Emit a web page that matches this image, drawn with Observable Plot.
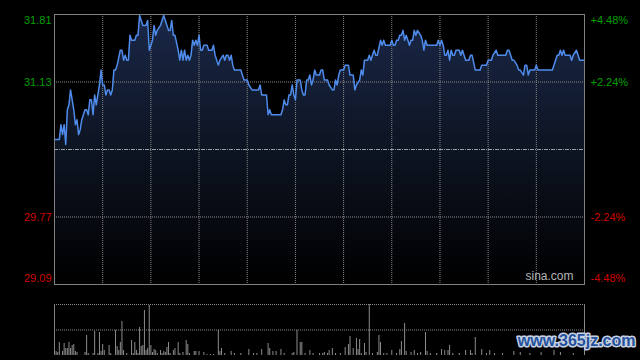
<!DOCTYPE html>
<html><head><meta charset="utf-8">
<script src="https://cdn.jsdelivr.net/npm/d3@7"></script>
<script src="https://cdn.jsdelivr.net/npm/@observablehq/plot@0.6"></script>
<style>
html,body{margin:0;padding:0;background:#000;overflow:hidden;}
#chart svg{display:block}
</style></head><body><div id="chart"></div>
<script>
// Intraday price (minute index from open, HK session 330 minutes)
const minutes = [0,3,4,5,6,7,8,9,10,12,13,14,15,16,17,19,20,21,22,23,24,25,26,27,28,29,30,31,32,33,34,35,36,37,38,39,41,42,43,44,45,46,47,48,50,51,52,53,54,55,56,57,58,59,60,61,62,63,64,66,
67,68,69,71,72,73,74,75,77,78,79,80,81,82,83,84,85,86,87,88,89,90,91,92,93,95,96,98,99,100,102,103,105,106,107,108,109,110,111,112,116,117,118,120,121,123,127,128,129,131,132,
133,134,135,141,142,143,144,145,146,147,148,149,150,151,153,154,155,156,157,158,159,160,161,162,163,165,166,167,168,170,171,173,174,175,176,177,178,180,181,183,184,186,187,188,190,191,192,193,194,195,196,197,198,
199,200,201,203,204,205,206,209,210,211,212,213,214,215,216,217,218,219,220,221,222,223,224,225,226,228,229,230,231,232,238,239,240,241,242,243,244,245,246,247,248,249,250,252,253,254,256,258,259,260,262,
265,266,269,270,272,273,275,276,281,282,283,285,286,288,289,290,292,293,294,295,296,299,300,301,310,312,313,314,315,316,317,318,321,322,323,325,327,330];
const prices = [30.55,30.55,30.70,30.60,30.70,30.50,30.85,30.90,31.05,30.85,30.70,30.75,30.60,30.65,30.75,30.85,30.85,30.80,30.95,30.95,30.80,31.00,30.90,31.00,31.10,31.25,31.10,31.10,31.00,31.05,31.05,31.00,31.05,31.25,31.25,31.30,31.45,31.45,31.35,31.40,31.35,31.35,31.60,31.55,31.55,31.60,31.60,31.80,31.75,31.70,31.70,31.70,31.75,31.45,31.50,31.55,31.70,31.60,31.65,31.70,
31.75,31.80,31.75,31.65,31.65,31.75,31.60,31.60,31.45,31.35,31.45,31.35,31.45,31.35,31.40,31.35,31.40,31.55,31.50,31.55,31.50,31.60,31.45,31.45,31.50,31.50,31.45,31.45,31.50,31.40,31.30,31.35,31.40,31.35,31.40,31.40,31.35,31.40,31.30,31.25,31.25,31.20,31.15,31.15,31.10,31.05,31.05,31.10,31.00,31.00,31.00,
30.80,30.85,30.80,30.80,30.85,30.95,30.90,30.90,31.00,31.00,31.10,31.00,30.95,31.15,31.15,31.05,31.00,31.00,31.15,31.15,31.20,31.10,31.15,31.25,31.20,31.20,31.25,31.25,31.15,31.15,31.10,31.05,31.05,31.15,31.10,31.20,31.25,31.25,31.30,31.30,31.20,31.20,31.05,31.10,31.15,31.25,31.20,31.35,31.35,31.35,31.40,31.35,31.40,
31.45,31.40,31.40,31.55,31.50,31.55,31.50,31.50,31.55,31.50,31.50,31.55,31.55,31.60,31.60,31.65,31.55,31.60,31.55,31.50,31.55,31.55,31.65,31.60,31.65,31.60,31.55,31.45,31.55,31.50,31.50,31.55,31.50,31.55,31.50,31.40,31.40,31.45,31.35,31.45,31.40,31.40,31.45,31.45,31.40,31.45,31.35,31.35,31.40,31.40,31.25,
31.25,31.30,31.30,31.35,31.35,31.40,31.45,31.40,31.40,31.45,31.45,31.35,31.35,31.30,31.25,31.25,31.20,31.30,31.30,31.20,31.25,31.25,31.30,31.25,31.25,31.35,31.40,31.40,31.45,31.40,31.45,31.40,31.40,31.35,31.40,31.45,31.35,31.35];

// Volume per minute (arbitrary units)
const volMinutes = [1,2,3,5,6,7,8,9,10,11,12,13,14,19,20,21,24,25,27,28,29,30,31,34,35,38,39,40,41,42,43,45,48,49,50,51,52,53,54,55,56,57,58,59,60,61,62,63,64,66,67,68,69,70,71,72,74,75,77,78,80,82,83,84,87,88,90,93,95,97,99,
102,103,104,106,110,112,116,121,124,126,129,133,134,136,138,141,143,148,149,151,153,154,156,159,161,165,167,168,170,171,173,175,178,181,183,184,186,188,189,190,191,193,194,196,198,201,202,203,205,207,210,213,215,216,218,219,222,224,226,228,231,232,234,238,241,243,245,246,248,252,256,259,260,262,266,269,271,274,279,286,290,296,303,311,315,323,330];
const volValues = [4,3,13,4,12,7,7,13,7,10,11,4,3,3,20,2,2,24,2,23,4,11,5,10,2,25,9,5,13,34,5,2,15,2,13,5,2,28,9,10,45,5,7,50,10,3,6,5,2,5,2,4,3,8,13,2,5,7,13,2,3,15,11,2,4,4,4,3,1,1,1,
25,4,7,2,4,2,2,6,2,2,6,12,7,4,4,6,2,2,3,25,13,13,2,5,2,2,2,3,2,5,7,2,2,8,11,19,7,17,6,16,2,12,3,51,2,3,20,13,2,2,5,2,6,14,32,4,3,5,2,3,23,4,2,2,6,5,5,10,2,2,5,5,2,18,6,2,5,2,2,4,3,2,3,5,3,2,33];

const prevClose = 30.45;
const priceTicks = [31.81, 31.13, 29.77, 29.09];
const priceTickLabels = ["31.81", "31.13", "29.77", "29.09"];
const pctTickLabels = ["+4.48%", "+2.24%", "-2.24%", "-4.48%"];
const gridMinutes = [30, 60, 90, 120, 150, 180, 210, 240, 270, 300];
const sessionLength = 330;
const volMax = 51;

const series = minutes.map((m, i) => ({m, p: prices[i], base: priceTicks[3]}));
const vols = volMinutes.map((m, i) => ({m, v: volValues[i]}));

const font = '"Liberation Sans", Arial, sans-serif';
const green = "#00a000", red = "#d00000";

const labelRows = priceTicks.map((y, i) => ({
  y, left: priceTickLabels[i], right: pctTickLabels[i],
  color: i < 2 ? green : red,
  dy: i === 0 ? 6 : i === 3 ? -6 : 0
}));

const priceChart = Plot.plot({
  width: 640, height: 290,
  marginLeft: 54, marginRight: 56, marginTop: 14, marginBottom: 6,
  style: {background: "#000", fontFamily: font},
  x: {domain: [0, sessionLength], axis: null},
  y: {domain: [priceTicks[3], priceTicks[0]], axis: null},
  marks: [
    Plot.areaY(series, {x: "m", y1: "base", y2: "p", fill: "url(#areaGrad)", curve: "linear"}),
    Plot.ruleX(gridMinutes, {stroke: "#8a8a8a", strokeDasharray: "1,1"}),
    Plot.ruleY([priceTicks[1], priceTicks[2]], {stroke: "#8a8a8a", strokeDasharray: "1,1"}),
    Plot.ruleY([prevClose], {stroke: "#9aa0a8", strokeDasharray: "4,1,1,1"}),
    Plot.line(series, {x: "m", y: "p", stroke: "#4f8bea", strokeWidth: 1.5}),
    Plot.frame({stroke: "#808080"}),
    ...labelRows.map(r => Plot.text([r], {x: () => 0, y: "y", text: "left", fill: r.color, dy: r.dy, dx: -3, textAnchor: "end", fontSize: 11})),
    ...labelRows.map(r => Plot.text([r], {x: () => sessionLength, y: "y", text: "right", fill: r.color, dy: r.dy, dx: 6, textAnchor: "start", fontSize: 11})),
    Plot.text(["sina.com"], {frameAnchor: "bottom-right", dx: -11, dy: -5, textAnchor: "end", fill: "#b4b4b4", fontSize: 12})
  ]
});

const defs = d3.select(priceChart).insert("defs", ":first-child");
const grad = defs.append("linearGradient").attr("id", "areaGrad")
  .attr("gradientUnits", "userSpaceOnUse").attr("x1", 0).attr("x2", 0).attr("y1", 14).attr("y2", 284);
grad.append("stop").attr("offset", "0").attr("stop-color", "#1a2848");
grad.append("stop").attr("offset", "0.5").attr("stop-color", "#0d1422");
grad.append("stop").attr("offset", "1").attr("stop-color", "#000000");

const volChart = Plot.plot({
  width: 640, height: 70,
  marginLeft: 54, marginRight: 56, marginTop: 14, marginBottom: 5,
  style: {background: "#000", fontFamily: font},
  x: {domain: [0, sessionLength], axis: null},
  y: {domain: [0, volMax], axis: null},
  marks: [
    Plot.ruleY([volMax, volMax / 2], {stroke: "#8a8a8a", strokeDasharray: "1,1"}),
    Plot.ruleX([0, sessionLength], {y1: 0, y2: volMax, stroke: "#808080"}),
    Plot.ruleX(vols, {x: "m", y1: 0, y2: "v", stroke: "#8c8c8c", strokeWidth: 1}),
    Plot.text(["www.365jz.com"], {frameAnchor: "bottom-right", dx: 51, dy: -10, textAnchor: "end",
      fill: "#24519c", stroke: "#c8d2e2", strokeWidth: 3, paintOrder: "stroke", fontSize: 16, fontWeight: "bold"})
  ]
});
d3.select(volChart).style("overflow", "visible");

const root = document.getElementById("chart");
root.append(priceChart);
root.append(volChart);
</script>
</body></html>
